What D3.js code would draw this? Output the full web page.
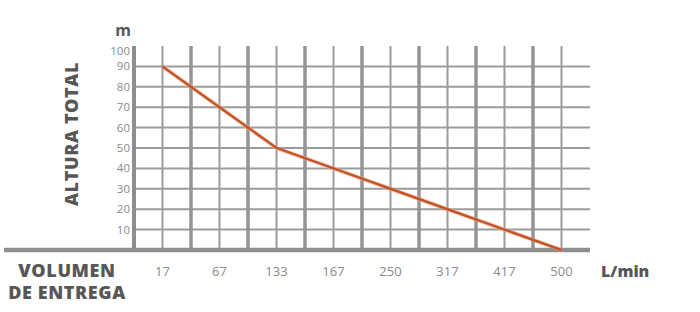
<!DOCTYPE html>
<html>
<head>
<meta charset="utf-8">
<script src="https://cdn.jsdelivr.net/npm/d3@7"></script>
<style>
  body { margin: 0; background: #fff; }
  svg { display: block; font-family: "Open Sans", sans-serif; }
</style>
</head>
<body>
<svg width="700" height="312"></svg>
<script>
// caudal (L/min) y altura (m)
const flows = ["17", "67", "133", "167", "250", "317", "417", "500"];
const heads = [90, 70, 50, 40, 30, 20, 10, 0];
const yTicks = [10, 20, 30, 40, 50, 60, 70, 80, 90];
const yLabels = [10, 20, 30, 40, 50, 60, 70, 80, 90, 100];

const plotLeft = 134, plotRight = 590, plotTop = 46, plotBottom = 250;
const gridColor = "#9b9b9b", textDark = "#575757", textLight = "#8a8a8a";

const svg = d3.select("svg");

const x = d3.scaleBand().domain(flows).range([plotLeft, plotRight]).padding(0);
const y = d3.scaleLinear().domain([0, 100]).range([plotBottom, plotTop]);

// horizontal grid
svg.selectAll(".hgrid")
  .data(yTicks)
  .enter().append("line")
  .attr("x1", plotLeft).attr("x2", plotRight)
  .attr("y1", d => y(d)).attr("y2", d => y(d))
  .attr("stroke", gridColor).attr("stroke-width", 2);

// thin lines at each category
svg.selectAll(".vthin")
  .data(flows)
  .enter().append("line")
  .attr("x1", d => x(d) + x.bandwidth() / 2).attr("x2", d => x(d) + x.bandwidth() / 2)
  .attr("y1", y(100)).attr("y2", plotBottom)
  .attr("stroke", gridColor).attr("stroke-width", 2);

// thick lines between categories
svg.selectAll(".vthick")
  .data(flows.slice(1))
  .enter().append("line")
  .attr("x1", d => x(d)).attr("x2", d => x(d))
  .attr("y1", y(100)).attr("y2", plotBottom)
  .attr("stroke", "#959595").attr("stroke-width", 3.5);

// axes
svg.append("line")
  .attr("x1", plotLeft).attr("x2", plotLeft)
  .attr("y1", y(100)).attr("y2", plotBottom + 2)
  .attr("stroke", "#8e8e8e").attr("stroke-width", 4);
svg.append("line")
  .attr("x1", 4).attr("x2", plotRight)
  .attr("y1", plotBottom).attr("y2", plotBottom)
  .attr("stroke", "#8e8e8e").attr("stroke-width", 4.5);

// curve
const line = d3.line()
  .x((d, i) => x(flows[i]) + x.bandwidth() / 2)
  .y(d => y(d));
svg.append("path")
  .datum(heads)
  .attr("d", line)
  .attr("fill", "none")
  .attr("stroke", "#f2b08f").attr("stroke-width", 4.5).attr("opacity", 0.5);
svg.append("path")
  .datum(heads)
  .attr("d", line)
  .attr("fill", "none")
  .attr("stroke", "#c2552a").attr("stroke-width", 2.5);

// y labels (100 sits a bit lower, under the unit)
svg.selectAll(".ylab")
  .data(yLabels)
  .enter().append("text")
  .attr("x", 130).attr("y", d => y(d) + (d === 100 ? 9 : 4))
  .attr("text-anchor", "end")
  .attr("font-size", 11.5)
  .attr("fill", textLight)
  .text(d => d);

// x labels
svg.selectAll(".xlab")
  .data(flows)
  .enter().append("text")
  .attr("x", d => x(d) + x.bandwidth() / 2).attr("y", 276)
  .attr("text-anchor", "middle")
  .attr("font-size", 13)
  .attr("fill", textLight)
  .text(d => d);

// titles
svg.append("text")
  .attr("x", 123).attr("y", 36)
  .attr("text-anchor", "middle")
  .attr("font-size", 16).attr("font-weight", 700)
  .attr("fill", textDark)
  .text("m");

svg.append("text")
  .attr("transform", "translate(78,134) rotate(-90)")
  .attr("text-anchor", "middle")
  .attr("font-size", 18).attr("font-weight", 800)
  .attr("letter-spacing", 0.6)
  .attr("fill", textDark)
  .text("ALTURA TOTAL");

svg.append("text")
  .attr("x", 67).attr("y", 277)
  .attr("text-anchor", "middle")
  .attr("font-size", 18).attr("font-weight", 800)
  .attr("letter-spacing", 0.6)
  .attr("fill", textDark)
  .text("VOLUMEN");
svg.append("text")
  .attr("x", 67).attr("y", 299)
  .attr("text-anchor", "middle")
  .attr("font-size", 18).attr("font-weight", 800)
  .attr("letter-spacing", 0.6)
  .attr("fill", textDark)
  .text("DE ENTREGA");

svg.append("text")
  .attr("x", 601).attr("y", 277)
  .attr("font-size", 16).attr("font-weight", 800)
  .attr("fill", textDark)
  .text("L/min");
</script>
</body>
</html>
